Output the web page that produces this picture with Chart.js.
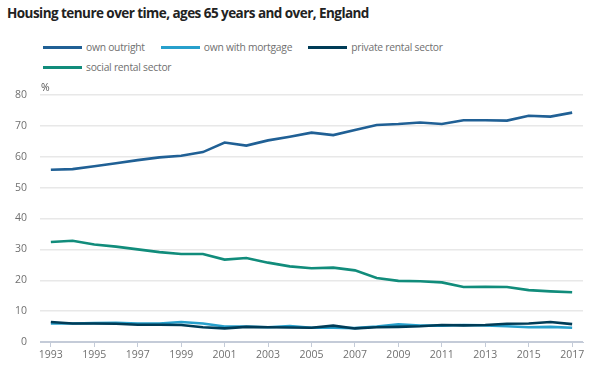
<!DOCTYPE html>
<html>
<head>
<meta charset="utf-8">
<script src="https://cdn.jsdelivr.net/npm/chart.js@4"></script>
<style>
  body { margin: 0; background: #fff; font-family: "Open Sans", sans-serif; }
  #wrap { position: relative; width: 602px; height: 373px; overflow: hidden; }
  #title { position: absolute; left: 7px; top: 4px; font-size: 13.5px; letter-spacing: -0.55px; font-weight: bold; color: #222; white-space: nowrap; }
  #legend { position: absolute; left: 43px; top: 37px; font-size: 10.3px; letter-spacing: -0.25px; color: #707070; white-space: nowrap; }
  .item { display: inline-flex; align-items: center; margin-right: 16px; height: 20px; }
  .sw { display: inline-block; width: 39px; height: 3px; margin-right: 4px; }
  canvas { position: absolute; left: 0; top: 0; }
</style>
</head>
<body>
<div id="wrap">
  <div id="title">Housing tenure over time, ages 65 years and over, England</div>
  <div id="legend"></div>
  <canvas id="chart" width="602" height="373"></canvas>
</div>
<script>
const years = ['1993','1994','1995','1996','1997','1998','1999','2000','2001','2002','2003','2004',
  '2005','2006','2007','2008','2009','2010','2011','2012','2013','2014','2015','2016','2017']

const ownOutright = [55.8, 56.0, 56.9, 57.9, 58.9, 59.8, 60.3, 61.5, 64.6, 63.6, 65.3, 66.5,
  67.8, 67.0, 68.7, 70.3, 70.6, 71.1, 70.6, 71.8, 71.8, 71.7, 73.3, 73.0, 74.3]
const ownMortgage = [6.0, 6.0, 6.1, 6.2, 6.0, 6.0, 6.5, 6.0, 5.0, 5.0, 4.8, 5.2,
  4.6, 4.6, 4.5, 5.0, 5.7, 5.3, 5.3, 5.5, 5.4, 5.1, 4.8, 4.9, 4.6]
const privateRental = [6.5, 6.0, 6.0, 5.9, 5.6, 5.6, 5.5, 4.8, 4.4, 4.9, 4.8, 4.7,
  4.6, 5.3, 4.4, 4.8, 4.9, 5.1, 5.5, 5.4, 5.5, 5.9, 6.0, 6.5, 5.8]
const socialRental = [32.4, 32.8, 31.6, 30.9, 30.0, 29.1, 28.5, 28.5, 26.7, 27.2, 25.7, 24.5,
  23.9, 24.1, 23.2, 20.7, 19.8, 19.7, 19.3, 17.8, 17.9, 17.8, 16.8, 16.4, 16.1]

const seriesNames = ['own outright', 'own with mortgage', 'private rental sector', 'social rental sector']
const seriesColors = ['#206095', '#27a0cc', '#003c57', '#118c7b']
const seriesData = [ownOutright, ownMortgage, privateRental, socialRental]

// html legend, so the 4th item wraps like the original
const legend = document.getElementById('legend')
seriesNames.forEach((name, i) => {
    const el = document.createElement('span')
    el.className = 'item'
    el.innerHTML = '<span class="sw" style="background:' + seriesColors[i] + '"></span>' + name
    legend.appendChild(el)
    if (i == 2) legend.appendChild(document.createElement('br'))
})

// draws the "%" unit above the y axis
const unitLabel = {
    id: 'unitLabel',
    afterDraw(chart) {
        const c = chart.ctx
        c.save()
        c.font = '10.5px "Open Sans"'
        c.fillStyle = '#555'
        c.textBaseline = 'alphabetic'
        c.fillText('%', chart.chartArea.left + 1, chart.chartArea.top - 4)
        c.restore()
    }
}

let ctx = document.getElementById('chart')

const chart = new Chart(ctx, {
    type: 'line',
    data: {
        labels: years,
        datasets: seriesData.map((d, i) => ({
            label: seriesNames[i],
            data: d,
            borderColor: seriesColors[i],
            backgroundColor: seriesColors[i],
            borderWidth: 2.6,
            pointRadius: 0,
            tension: 0
        })).reverse()
    },
    options: {
        responsive: false,
        animation: false,
        layout: { padding: { top: 95, right: 19, bottom: 0, left: 0 } },
        plugins: {
            legend: { display: false },
            tooltip: { enabled: false }
        },
        scales: {
            x: {
                offset: true,
                afterFit: (s) => { s.height = 31 },
                grid: {
                    offset: false,
                    drawOnChartArea: false,
                    tickLength: 5,
                    color: (c) => c.index % 2 == 0 ? '#c4cbd8' : 'rgba(0,0,0,0)'
                },
                border: { color: '#c4cbd8', width: 1 },
                ticks: {
                    autoSkip: false,
                    maxRotation: 0,
                    padding: 2,
                    color: '#707070',
                    font: { family: 'Open Sans', size: 10.5 },
                    callback: (v, i) => i % 2 == 0 ? years[i] : ''
                }
            },
            y: {
                min: 0,
                max: 80,
                afterFit: (s) => { s.width = 40 },
                border: { display: false },
                grid: {
                    drawTicks: false,
                    color: (c) => c.tick.value == 0 ? '#c4cbd8' : '#e8e8e8',
                    lineWidth: 1.5
                },
                ticks: {
                    stepSize: 10,
                    padding: 13,
                    color: '#707070',
                    font: { family: 'Open Sans', size: 10.5 }
                }
            }
        }
    },
    plugins: [unitLabel]
});
</script>
</body>
</html>
